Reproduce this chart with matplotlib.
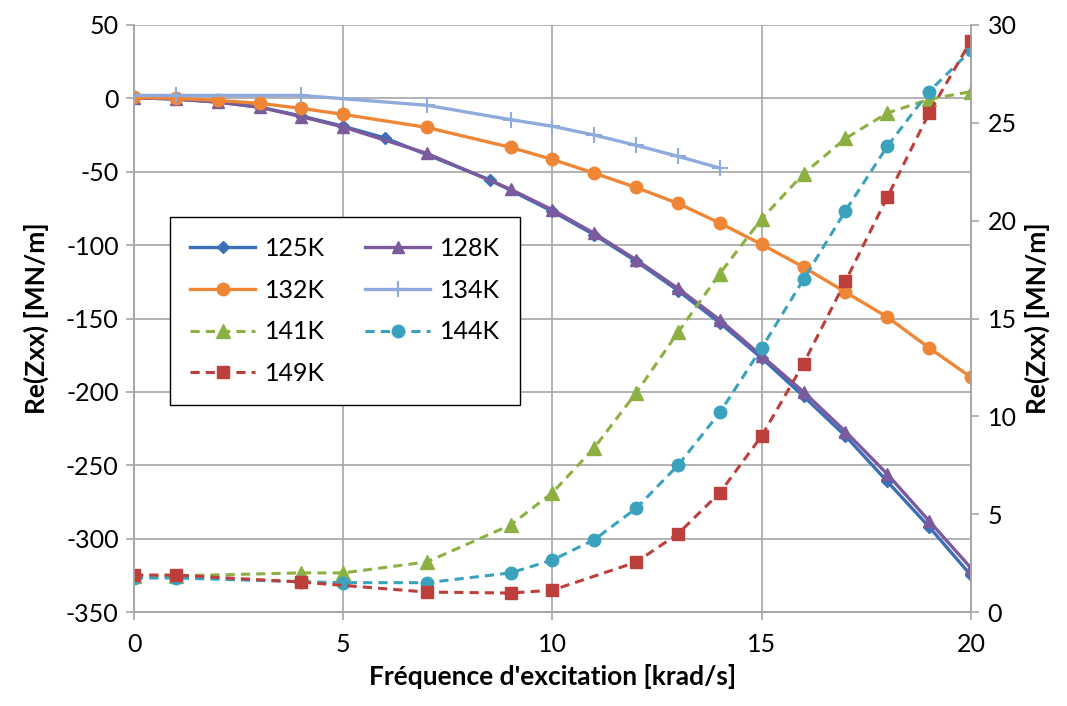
import matplotlib
matplotlib.use("Agg")
import matplotlib.pyplot as plt

plt.rcParams['font.family'] = ['Lato', 'DejaVu Sans']
plt.rcParams['axes.unicode_minus'] = False

# Left axis series (Re(Zxx), MN/m)
x_125 = [0, 1, 2, 3, 4, 5, 6, 8.5, 10, 11, 12, 13, 14, 15, 16, 17, 18, 19, 20]
y_125 = [0.5, -0.5, -2.5, -6, -12, -19, -27, -55.5, -77, -93, -111, -131, -153,
         -177, -203, -230, -261, -292, -325]

x_128 = [0, 1, 2, 3, 4, 5, 7, 9, 10, 11, 12, 13, 14, 15, 16, 17, 18, 19, 20]
y_128 = [0.5, -0.5, -2.5, -6, -12.5, -19.5, -37.5, -62, -76, -92, -110, -129.5,
         -151, -175.5, -200, -227, -256, -288, -320]

x_132 = [0, 1, 2, 3, 4, 5, 7, 9, 10, 11, 12, 13, 14, 15, 16, 17, 18, 19, 20]
y_132 = [0.7, 0, -1.4, -3.4, -6.8, -10.9, -19.8, -33.4, -41.6, -51, -60.7, -71.6,
         -85, -99.5, -115, -132, -149, -170, -190]

x_134 = [0, 1, 4, 7, 9, 10, 11, 12, 13, 14]
y_134 = [2, 2, 2, -4.7, -14.5, -19, -25, -32, -39.5, -47.5]

# Right axis series
x_141 = [0, 1, 4, 5, 7, 9, 10, 11, 12, 13, 14, 15, 16, 17, 18, 19, 20]
y_141 = [1.85, 1.85, 2.0, 2.0, 2.56, 4.45, 6.1, 8.4, 11.2, 14.3, 17.3, 20.1,
         22.4, 24.2, 25.5, 26.2, 26.6]

x_144 = [0, 1, 4, 5, 7, 9, 10, 11, 12, 13, 14, 15, 16, 17, 18, 19, 20]
y_144 = [1.74, 1.74, 1.55, 1.5, 1.5, 2.0, 2.66, 3.7, 5.3, 7.5, 10.2, 13.5,
         17.0, 20.5, 23.8, 26.6, 28.7]

x_149 = [0, 1, 4, 7, 9, 10, 12, 13, 14, 15, 16, 17, 18, 19, 20]
y_149 = [1.89, 1.89, 1.53, 1.02, 0.97, 1.12, 2.55, 4.0, 6.1, 9.0, 12.7, 16.9,
         21.2, 25.5, 29.2]

fig = plt.figure(figsize=(10.67, 7.06), dpi=100)
ax = fig.add_axes([0.1256, 0.1331, 0.7844, 0.8315])
ax2 = ax.twinx()

lw = 2.4
h125, = ax.plot(x_125, y_125, color='#3D6FB6', lw=lw, marker='D', ms=6, label='125K')
h128, = ax.plot(x_128, y_128, color='#7B5A9E', lw=lw, marker='^', ms=9, label='128K')
h132, = ax.plot(x_132, y_132, color='#EF8636', lw=lw, marker='o', ms=9, label='132K')
h134, = ax.plot(x_134, y_134, color='#8FAADC', lw=lw, marker='+', ms=11, mew=1.5, label='134K')

dash = (0, (3, 2))
h141, = ax2.plot(x_141, y_141, color='#8DB043', lw=2.2, ls=dash, marker='^', ms=10, label='141K')
h144, = ax2.plot(x_144, y_144, color='#3BA2BE', lw=2.2, ls=dash, marker='o', ms=9, label='144K')
h149, = ax2.plot(x_149, y_149, color='#BC3F3C', lw=2.2, ls=dash, marker='s', ms=9, label='149K')

ax.set_xlim(0, 20)
ax.set_ylim(-350, 50)
ax.set_yticks(range(-350, 51, 50))
ax.set_xticks(range(0, 21, 5))
ax2.set_ylim(0, 30)
ax2.set_yticks(range(0, 31, 5))

ax.grid(True, color='#A6A6A6', lw=1.2)
ax.set_axisbelow(True)

for a in (ax, ax2):
    for s in a.spines.values():
        s.set_color('#A6A6A6')
        s.set_linewidth(1.2)
    a.spines['top'].set_visible(False)
    a.tick_params(colors='#A6A6A6', labelcolor='black', labelsize=18, length=6, width=1.2)
ax.tick_params(axis='x', pad=9)
ax.tick_params(axis='y', pad=5)
ax2.tick_params(axis='y', pad=6)

ax.set_xlabel("Fréquence d'excitation [krad/s]", fontsize=19, fontweight='bold', labelpad=6)
ax.set_ylabel("Re(Zxx) [MN/m]", fontsize=19, fontweight='bold', labelpad=12)
ax2.set_ylabel("Re(Zxx) [MN/m]", fontsize=19, fontweight='bold', labelpad=6)

handles = [h125, h132, h141, h149, h128, h134, h144]
leg = ax2.legend(handles=handles, labels=[h.get_label() for h in handles],
                 ncol=2, loc='upper left', bbox_to_anchor=(0.043, 0.673),
                 borderaxespad=0, fontsize=18, frameon=True, fancybox=False,
                 edgecolor='black', framealpha=1, numpoints=1, handlelength=2.6,
                 handletextpad=0.4, columnspacing=1.6, labelspacing=0.75,
                 borderpad=0.8)
leg.get_frame().set_linewidth(1.0)

fig.savefig('out.png', dpi=100)
